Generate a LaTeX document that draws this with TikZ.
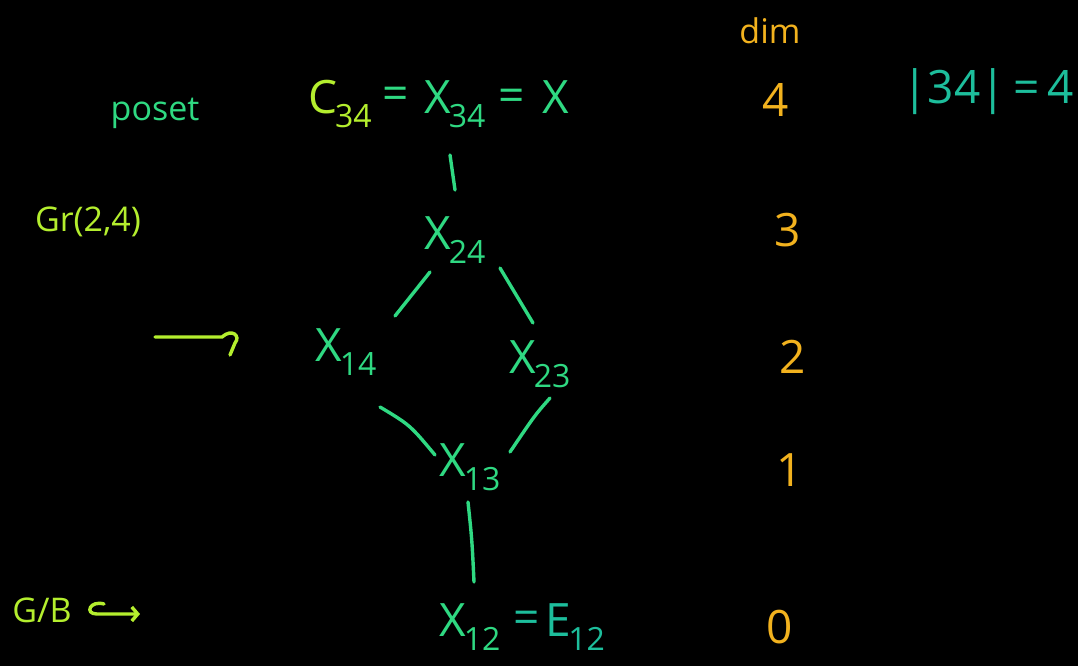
\documentclass[tikz,border=0pt]{standalone}
\usepackage{fontspec}
\usetikzlibrary{arrows.meta}
\setmainfont{Open Sans}
\definecolor{lime}{HTML}{B4EE2E}
\definecolor{grn}{HTML}{2FD982}
\definecolor{teal}{HTML}{1DBE9C}
\definecolor{orng}{HTML}{F2B21E}
\newcommand{\sbs}[1]{\kern-0.05em\raisebox{-0.3em}{\fontsize{32}{32}\selectfont #1}}
\tikzset{
  lbl/.style={inner sep=1pt, font=\fontsize{46}{48}\selectfont},
  small/.style={inner sep=1pt, font=\fontsize{34}{36}\selectfont},
  edge/.style={grn, line width=3.4pt, line cap=round},
}
\begin{document}
\begin{tikzpicture}[x=1pt,y=-1pt]
\useasboundingbox[fill=black] (0,0) rectangle (1078,666);
% left labels
\node[small, text=grn] (poset) at (155,113) {poset};
\node[small, text=lime] (gr) at (88,222) {Gr(2,4)};
\coordinate (a1) at (155,337);
\coordinate (a2) at (222,337);
\draw[lime, line width=3.4pt, line cap=round] (a1) -- (a2) .. controls (232,328) and (241,336) .. (235,343) -- (230,355);
\node[small, text=lime] (gb) at (42,610) {G/B};
\coordinate (h1) at (104,604);
\coordinate (h2) at (140,614);
\draw[lime, line width=3.4pt, line cap=round, -{Straight Barb[length=6pt,width=14pt]}] (h1) .. controls (90,600) and (84,614) .. (97,614) -- (h2);
% top
\node[lbl, text=lime] (c34) at (340,104) {C\sbs{34}};
\node[lbl, text=grn] (eq1) at (396,98) {=};
\node[lbl, text=grn] (x34) at (455,104) {X\sbs{34}};
\node[lbl, text=grn] (eq2) at (512,100) {=};
\node[lbl, text=grn] (xx) at (556,97) {X};
% diagram
\node[lbl, text=grn] (x24) at (455,240) {X\sbs{24}};
\node[lbl, text=grn] (x14) at (346,352) {X\sbs{14}};
\node[lbl, text=grn] (x23) at (540,364) {X\sbs{23}};
\node[lbl, text=grn] (x13) at (470,467) {X\sbs{13}};
\node[lbl, text=grn] (x12) at (470,627) {X\sbs{12}};
\node[lbl, text=teal] (eq3) at (527,622) {=};
\node[lbl, text=teal] (e12) at (575,627) {E\sbs{12}};
\draw[edge] (450,155) -- (455,190);
\draw[edge] (x24) ++(-25,32) -- ++(-35,44);
\draw[edge] (x24) ++(45,28) -- ++(33,55);
\draw[edge] (x14) ++(34,55) .. controls (410,425) .. (435,455);
\draw[edge] (x23) ++(10,34) .. controls (535,415) .. (510,452);
\draw[edge] (x13) ++(-2,35) .. controls (472,540) .. (474,582);
% dim column
\node[small, text=orng] (dim) at (770,31) {dim};
\node[lbl, text=orng] (d4) at (776,100) {4};
\node[lbl, text=orng] (d3) at (788,230) {3};
\node[lbl, text=orng] (d2) at (793,357) {2};
\node[lbl, text=orng] (d1) at (790,470) {1};
\node[lbl, text=orng] (d0) at (780,627) {0};
\node[lbl, text=teal] (card) at (988,92) {|34|\,=\,4};
\end{tikzpicture}
\end{document}
